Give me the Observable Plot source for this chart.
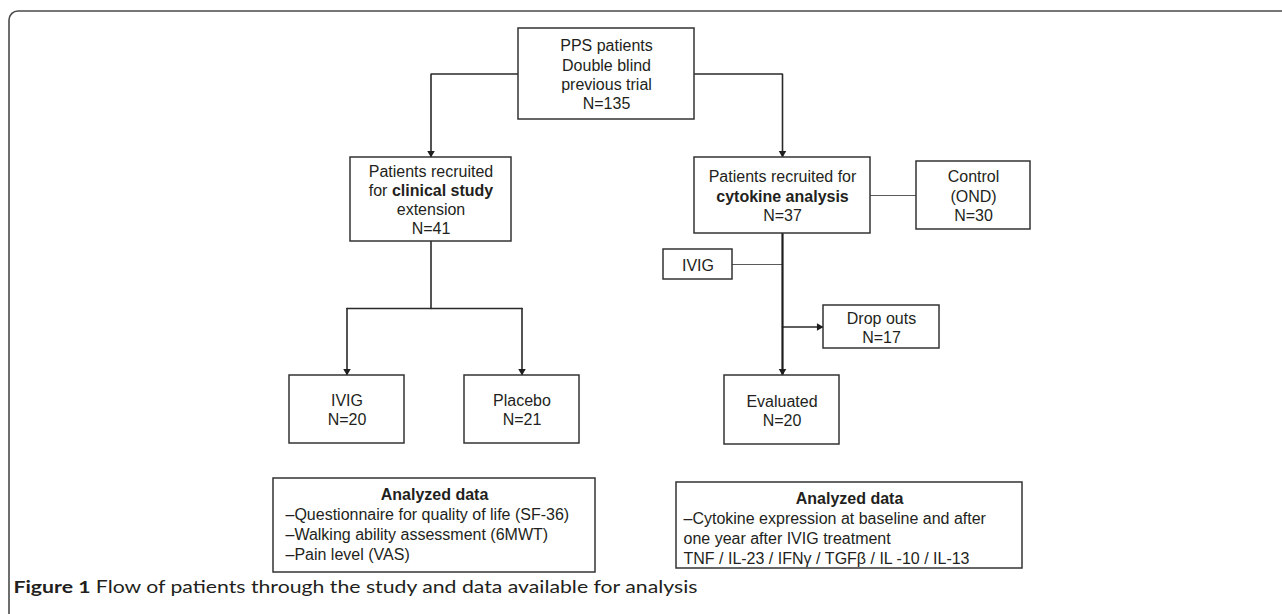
<!DOCTYPE html>
<html>
<head>
<meta charset="utf-8">
<script src="https://cdn.jsdelivr.net/npm/d3@7"></script>
<script src="https://cdn.jsdelivr.net/npm/@observablehq/plot@0.6"></script>
<style>
  html, body { margin: 0; padding: 0; background: #fff; overflow: hidden; }
  #chart svg { display: block; }
</style>
</head>
<body>
<div id="chart"></div>
<script>
// ---------------- data ----------------
const boxIds = ["pps", "clinical", "cytokine", "control", "ivigTreat", "dropouts", "evaluated", "ivig", "placebo"];
const boxLabels = [
  "PPS patients\nDouble blind\nprevious trial",
  "Patients recruited\nfor **clinical study**\nextension",
  "Patients recruited for\n**cytokine analysis**",
  "Control\n(OND)",
  "IVIG",
  "Drop outs",
  "Evaluated",
  "IVIG",
  "Placebo"
];
const boxCounts = [135, 41, 37, 30, null, 17, 20, 20, 21];

const analyzedIds = ["analyzedClinical", "analyzedCytokine"];
const analyzedTitles = ["Analyzed data", "Analyzed data"];
const clinicalOutcomes = [
  "–Questionnaire for quality of life (SF-36)",
  "–Walking ability assessment (6MWT)",
  "–Pain level (VAS)"
];
const cytokineOutcomes = [
  "–Cytokine expression at baseline and after",
  "one year after IVIG treatment",
  "TNF / IL-23 / IFNγ / TGFβ / IL -10 / IL-13"
];
const captionText = "**Figure 1** Flow of patients through the study and data available for analysis";

// ---------------- layout (page geometry, px) ----------------
const layout = {
  pps:              [518, 694, 28, 119],
  clinical:         [350, 511, 157, 241],
  cytokine:         [694, 870, 157, 233],
  control:          [916, 1030, 161, 229],
  ivigTreat:        [663, 732, 249, 279],
  dropouts:         [823, 939, 305, 348],
  evaluated:        [724, 839, 375, 444],
  ivig:             [289, 404, 375, 443],
  placebo:          [464, 579, 375, 443],
  analyzedClinical: [273, 595, 478, 572],
  analyzedCytokine: [676, 1022, 482, 568]
};
const itemPad = {analyzedClinical: 12, analyzedCytokine: 7};
const splitY = 308;            // horizontal split under the clinical box
const frameBox = {x1: 9, y1: 11, x2: 1300, y2: 640, r: 9};
const captionPos = {x: 13, y: 587};

const W = 1282, H = 614;
const textColor = "#231f20";
const font = "'Liberation Sans', Arial, Helvetica, sans-serif";

// ---------------- geometry helpers ----------------
const B = id => { const [x1, x2, y1, y2] = layout[id]; return {x1, x2, y1, y2, cx: (x1 + x2) / 2, cy: (y1 + y2) / 2}; };
const topOf = id => ({x: B(id).cx, y: B(id).y1});
const bottomOf = id => ({x: B(id).cx, y: B(id).y2});
const leftOf = id => ({x: B(id).x1, y: B(id).cy});
const rightOf = id => ({x: B(id).x2, y: B(id).cy});

const boxes = boxIds.map((id, i) => ({
  id, ...B(id),
  text: boxLabels[i] + (boxCounts[i] != null ? `\nN=${boxCounts[i]}` : "")
}));
const analyzed = analyzedIds.map((id, i) => {
  const b = B(id);
  const items = i === 0 ? clinicalOutcomes : cytokineOutcomes;
  return {id, ...b, title: analyzedTitles[i], items: items.join("\n"), n: items.length, pad: itemPad[id]};
});

// connectors
const trunkX = B("cytokine").cx;
const connectors = [
  {pts: [leftOf("pps"), {x: B("clinical").cx, y: B("pps").cy}, topOf("clinical")], style: "main", arrow: true},
  {pts: [rightOf("pps"), {x: B("cytokine").cx, y: B("pps").cy}, topOf("cytokine")], style: "main", arrow: true},
  {pts: [bottomOf("clinical"), {x: B("clinical").cx, y: splitY}], style: "main", arrow: false},
  {pts: [{x: B("ivig").cx, y: splitY}, {x: B("placebo").cx, y: splitY}], style: "main", arrow: false},
  {pts: [{x: B("ivig").cx, y: splitY}, topOf("ivig")], style: "main", arrow: true},
  {pts: [{x: B("placebo").cx, y: splitY}, topOf("placebo")], style: "main", arrow: true},
  {pts: [rightOf("cytokine"), leftOf("control")], style: "thin", arrow: false},
  {pts: [bottomOf("cytokine"), {x: trunkX, y: B("evaluated").y1}], style: "trunk", arrow: true},
  {pts: [rightOf("ivigTreat"), {x: trunkX, y: B("ivigTreat").cy}], style: "thin", arrow: false},
  {pts: [{x: trunkX, y: B("dropouts").cy}, leftOf("dropouts")], style: "main", arrow: true}
];
const linePts = connectors.flatMap((c, k) => c.pts.map(p => ({...p, k, style: c.style})));

const arrowR = 2.8;
const tipOffset = 2 * Math.sqrt((arrowR * arrowR * Math.PI) / (3 * Math.sqrt(3)));
const heads = connectors.filter(c => c.arrow).map(c => {
  const a = c.pts[c.pts.length - 2], b = c.pts[c.pts.length - 1];
  const dx = Math.sign(b.x - a.x), dy = Math.sign(b.y - a.y);
  const rotate = dy > 0 ? 180 : dx > 0 ? 90 : dx < 0 ? 270 : 0;
  return {x: b.x - dx * tipOffset, y: b.y - dy * tipOffset, rotate};
});

// ---------------- plot ----------------
const plot = Plot.plot({
  width: W, height: H,
  margin: 0,
  x: {domain: [0, W], range: [0, W], axis: null},
  y: {domain: [0, H], range: [0, H], axis: null},
  style: {background: "#fff", fontFamily: font, color: textColor},
  marks: [
    Plot.rect([frameBox], {x1: "x1", x2: "x2", y1: "y1", y2: "y2", rx: frameBox.r, fill: "none", stroke: "#4a4a4a", strokeWidth: 1.6}),
    Plot.line(linePts.filter(d => d.style === "thin"), {x: "x", y: "y", z: "k", stroke: "#5a5a5a", strokeWidth: 1.1}),
    Plot.line(linePts.filter(d => d.style === "main"), {x: "x", y: "y", z: "k", stroke: "#2a2a2a", strokeWidth: 1.6, strokeLinejoin: "miter"}),
    Plot.line(linePts.filter(d => d.style === "trunk"), {x: "x", y: "y", z: "k", stroke: "#1e1e1e", strokeWidth: 2.2}),
    Plot.dot(heads, {x: "x", y: "y", rotate: "rotate", symbol: "triangle", r: arrowR, fill: "#1e1e1e", stroke: "none"}),
    Plot.rect(boxes, {x1: "x1", x2: "x2", y1: "y1", y2: "y2", fill: "#fff", stroke: "#333", strokeWidth: 1.5}),
    Plot.rect(analyzed, {x1: "x1", x2: "x2", y1: "y1", y2: "y2", fill: "#fff", stroke: "#333", strokeWidth: 1.5}),
    Plot.text(boxes, {x: "cx", y: "cy", text: "text", fontSize: 16, lineHeight: 1.2, textAnchor: "middle", lineAnchor: "middle", fill: textColor}),
    Plot.text(analyzed, {x: "cx", y: d => d.y1 + 16, text: "title", fontSize: 16, fontWeight: "bold", textAnchor: "middle", lineAnchor: "middle", fill: textColor}),
    Plot.text(analyzed, {x: d => d.x1 + d.pad, y: d => d.y1 + 35 + (d.n - 1) * 10, text: "items", fontSize: 16, lineHeight: 1.25, textAnchor: "start", lineAnchor: "middle", fill: textColor}),
    Plot.text([captionText], {x: () => captionPos.x, y: () => captionPos.y, text: d => d, fontSize: 17, fontFamily: "Lato, 'Open Sans', sans-serif", textAnchor: "start", lineAnchor: "middle", fill: textColor})
  ]
});

function applyBold(svg) {
  svg.querySelectorAll("text, tspan").forEach(el => {
    if (el.childNodes.length === 1 && el.firstChild.nodeType === 3 && el.textContent.includes("**")) {
      const parts = el.textContent.split("**");
      el.textContent = "";
      parts.forEach((p, i) => {
        if (!p) return;
        const t = document.createElementNS("http://www.w3.org/2000/svg", "tspan");
        if (i % 2 === 1) t.setAttribute("font-weight", "bold");
        t.textContent = p;
        el.appendChild(t);
      });
    }
  });
}
applyBold(plot);
document.getElementById("chart").appendChild(plot);

const capEl = Array.from(plot.querySelectorAll("text")).find(t => t.textContent.startsWith("Figure 1"));
if (capEl) {
  capEl.setAttribute("textLength", 684);
  capEl.setAttribute("lengthAdjust", "spacingAndGlyphs");
}
</script>
</body>
</html>
